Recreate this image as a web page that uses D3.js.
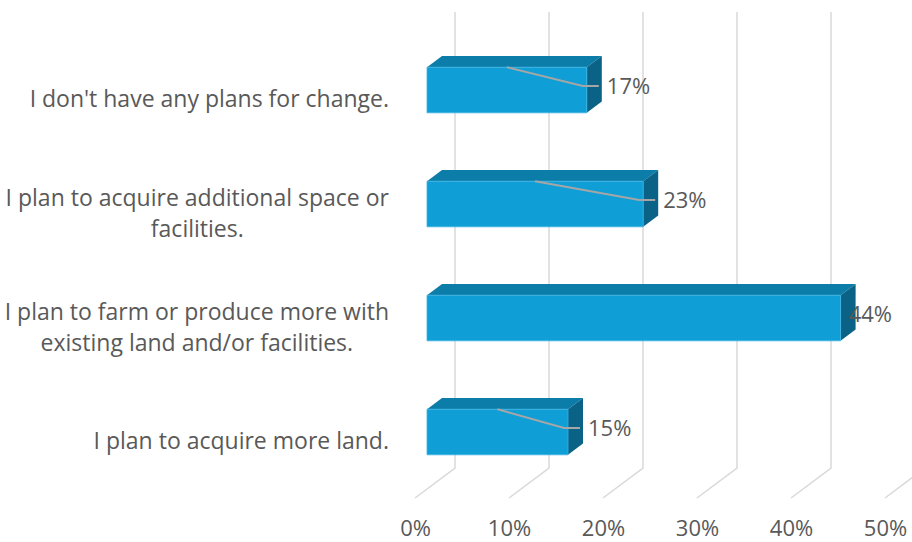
<!DOCTYPE html>
<html>
<head>
<meta charset="utf-8">
<script src="https://cdn.jsdelivr.net/npm/d3@7"></script>
<style>
  html, body { margin: 0; padding: 0; background: #ffffff; }
  svg { display: block; }
  text { font-family: "Open Sans", "Noto Sans", sans-serif; }
</style>
</head>
<body>
<script>
// Survey responses, listed top to bottom
const categories = [
  "I don't have any plans for change.",
  "I plan to acquire additional space or facilities.",
  "I plan to farm or produce more with existing land and/or facilities.",
  "I plan to acquire more land."
];
// Wrapped category labels as shown on the axis
const categoryLines = [
  ["I don't have any plans for change."],
  ["I plan to acquire additional space or", "facilities."],
  ["I plan to farm or produce more with", "existing land and/or facilities."],
  ["I plan to acquire more land."]
];
const shares = [0.17, 0.23, 0.44, 0.15];
const tickValues = [0, 0.1, 0.2, 0.3, 0.4, 0.5];

const W = 912, H = 542;
const svg = d3.select("body").append("svg").attr("width", W).attr("height", H);

// Front-plane scales; the back wall is shifted up-right by (DX, DY)
const x = d3.scaleLinear().domain([0, 0.5]).range([415, 885]);
const y = d3.scaleBand().domain(categories).range([42, 498]).paddingInner(0.6).paddingOuter(0.3);
const DX = 40, DY = -30;
const wallTop = 12, floorY = 498;
const dFront = 0.3, dBack = 0.675;   // bar depth as a fraction of the floor depth

const proj = (px, py, d) => [px + DX * d, py + DY * d];

const colFront = "#0f9ed5", colTop = "#0c7ca8", colSide = "#0a6387";
const gridCol = "#d9d9d9", textCol = "#595959";
const fontSize = 22, catFontSize = 23;

// Gridlines: vertical on the back wall, then diagonally across the floor
const grid = svg.append("g");
tickValues.forEach(t => {
  const [bx, by] = proj(x(t), floorY, 1);
  grid.append("path")
    .attr("d", `M${bx},${wallTop}L${bx},${by}L${x(t)},${floorY}`)
    .attr("fill", "none").attr("stroke", gridCol).attr("stroke-width", 1.5);
});

// Tick labels under the floor
const axis = d3.axisBottom(x).tickValues(tickValues).tickFormat(d3.format(".0%")).tickSize(0).tickPadding(0);
const axG = svg.append("g").attr("transform", `translate(0,${floorY + 22})`).call(axis);
axG.select(".domain").remove();
axG.selectAll("text").attr("fill", textCol).attr("font-size", fontSize)
  .attr("font-family", '"Open Sans", sans-serif').attr("dy", "0.71em");

// Category labels: each block right-aligned, its lines centred within the block
const labelRight = 389;
const catG = svg.append("g");
categories.forEach((c, i) => {
  const lines = categoryLines[i];
  const cy = y(c) + y.bandwidth() / 2;
  const lh = 31;
  const t = catG.append("text").attr("text-anchor", "middle").attr("fill", textCol).attr("font-size", catFontSize);
  const spans = lines.map((ln, j) => t.append("tspan")
    .attr("y", cy + (j - (lines.length - 1) / 2) * lh)
    .attr("dy", "0.35em").text(ln));
  const maxW = d3.max(spans, s => s.node().getComputedTextLength());
  spans.forEach(s => s.attr("x", labelRight - maxW / 2));
});

// 3D bars
const bars = svg.append("g");
categories.forEach((c, i) => {
  const v = shares[i];
  const y0 = y(c), y1 = y(c) + y.bandwidth();
  const fTL = proj(x(0), y0, dFront), fTR = proj(x(v), y0, dFront);
  const fBR = proj(x(v), y1, dFront), fBL = proj(x(0), y1, dFront);
  const bTL = proj(x(0), y0, dBack), bTR = proj(x(v), y0, dBack);
  const bBR = proj(x(v), y1, dBack);
  const poly = pts => "M" + pts.map(p => p.join(",")).join("L") + "Z";
  bars.append("path").attr("d", poly([fTL, fTR, bTR, bTL])).attr("fill", colTop);
  bars.append("path").attr("d", poly([fTR, bTR, bBR, fBR])).attr("fill", colSide);
  bars.append("path").attr("d", poly([fTL, fTR, fBR, fBL])).attr("fill", colFront)
    .attr("stroke", "#3bb3e2").attr("stroke-width", 0.8);
});

// Data labels with leader lines; labels that would leave the plot are pulled back inside
const plotRight = 892;
const labG = svg.append("g");
categories.forEach((c, i) => {
  const v = shares[i];
  const y0 = y(c), y1 = y(c) + y.bandwidth();
  const [fx0, fTop] = proj(x(0), y0, dFront);
  const [fx1] = proj(x(v), y0, dFront);
  const faceMid = (y0 + y1) / 2 + DY * dFront;
  const ly = faceMid - 4;
  const txt = labG.append("text").attr("fill", textCol).attr("font-size", fontSize)
    .attr("y", ly).attr("dy", "0.35em").text(d3.format(".0%")(v));
  const wTxt = txt.node().getComputedTextLength();
  let lx = fx1 + 20;
  const clamped = lx + wTxt > plotRight;
  if (clamped) lx = plotRight - wTxt;
  txt.attr("x", lx);
  if (!clamped) {
    const midX = (fx0 + fx1) / 2;
    labG.append("path")
      .attr("d", `M${midX},${fTop}L${fx1 - 4},${ly}L${lx - 8},${ly}`)
      .attr("fill", "none").attr("stroke", "#a6a6a6").attr("stroke-width", 2);
  }
});
</script>
</body>
</html>
